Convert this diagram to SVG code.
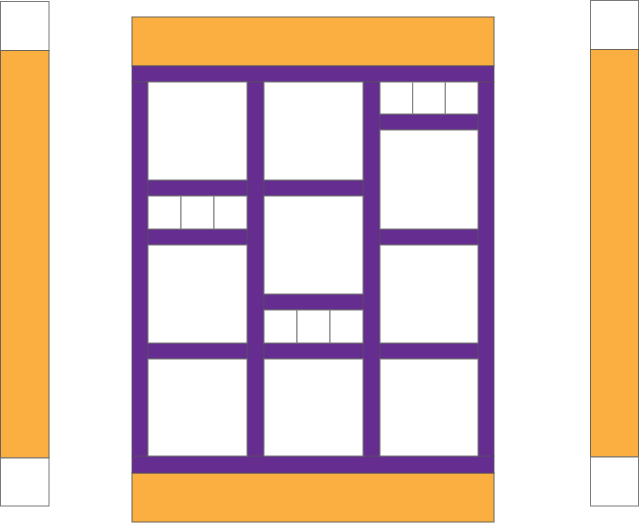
<svg xmlns="http://www.w3.org/2000/svg" width="640" height="524" viewBox="0 0 640 524">
<style>
.o{fill:#FBAF41;stroke:#6b6356;stroke-width:1}
.p{fill:#652D90;stroke:#5a4a66;stroke-width:0.8}
.w{fill:#FFFFFF;stroke:#7a7a7a;stroke-width:1}
</style>
<rect x="0" y="0" width="640" height="524" fill="#FFFFFF"/>
<g id="left-strip">
<rect class="w" x="0.5" y="1.5" width="48.5" height="49"/>
<rect class="o" x="0.5" y="50.5" width="48.5" height="407.5"/>
<rect class="w" x="0.5" y="458" width="48.5" height="48"/>
</g>
<g id="right-strip">
<rect class="w" x="590.5" y="0.5" width="48" height="49"/>
<rect class="o" x="590.5" y="49.5" width="48" height="407.5"/>
<rect class="w" x="590.5" y="457" width="48" height="49"/>
</g>
<g id="top-border"><rect class="o" x="132" y="17" width="362" height="49"/></g>
<g id="bottom-border"><rect class="o" x="132" y="473" width="362" height="49"/></g>
<g id="sashing">
<rect class="p" x="132" y="66" width="362" height="16"/>
<rect class="p" x="132" y="456" width="362" height="17"/>
<rect class="p" x="132" y="82" width="16" height="374"/>
<rect class="p" x="247" y="82" width="17" height="374"/>
<rect class="p" x="363" y="82" width="17" height="374"/>
<rect class="p" x="478" y="82" width="16" height="374"/>
<rect class="p" x="148" y="180" width="99" height="16"/>
<rect class="p" x="148" y="229" width="99" height="16"/>
<rect class="p" x="148" y="343" width="99" height="16"/>
<rect class="p" x="264" y="180" width="99" height="16"/>
<rect class="p" x="264" y="294" width="99" height="16"/>
<rect class="p" x="264" y="343" width="99" height="16"/>
<rect class="p" x="380" y="114" width="98" height="16"/>
<rect class="p" x="380" y="229" width="98" height="16"/>
<rect class="p" x="380" y="343" width="98" height="16"/>
</g>
<g id="column-1">
<rect class="w" x="148" y="82" width="99" height="98"/>
<rect class="w" x="148" y="196" width="33" height="33"/>
<rect class="w" x="181" y="196" width="33" height="33"/>
<rect class="w" x="214" y="196" width="33" height="33"/>
<rect class="w" x="148" y="245" width="99" height="98"/>
<rect class="w" x="148" y="359" width="99" height="97"/>
</g>
<g id="column-2">
<rect class="w" x="264" y="82" width="99" height="98"/>
<rect class="w" x="264" y="196" width="99" height="98"/>
<rect class="w" x="264" y="310" width="33" height="33"/>
<rect class="w" x="297" y="310" width="33" height="33"/>
<rect class="w" x="330" y="310" width="33" height="33"/>
<rect class="w" x="264" y="359" width="99" height="97"/>
</g>
<g id="column-3">
<rect class="w" x="380" y="82" width="32.7" height="32"/>
<rect class="w" x="412.7" y="82" width="32.6" height="32"/>
<rect class="w" x="445.3" y="82" width="32.7" height="32"/>
<rect class="w" x="380" y="130" width="98" height="99"/>
<rect class="w" x="380" y="245" width="98" height="98"/>
<rect class="w" x="380" y="359" width="98" height="97"/>
</g>
</svg>
